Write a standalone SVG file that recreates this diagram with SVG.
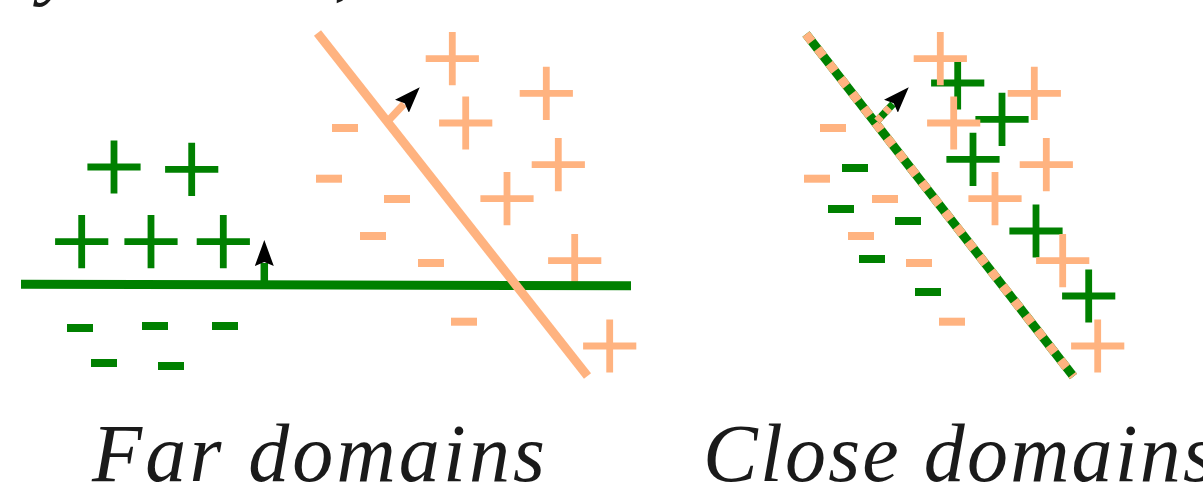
<svg xmlns="http://www.w3.org/2000/svg" xmlns:xlink="http://www.w3.org/1999/xlink" width="1203" height="485" viewBox="0 0 1203 485">
<style>
.gp{stroke:#008000;stroke-width:6.8;fill:none}
.op{stroke:#ffb380;stroke-width:6.8;fill:none}
.gm{fill:#008000}
.om{fill:#ffb380}
.gl{stroke:#008000;stroke-width:9;fill:none}
.ol{stroke:#ffb380;stroke-width:9;fill:none}
.od{stroke:#ffb380;stroke-width:9;fill:none;stroke-dasharray:9.4 9.4}
.stemg{stroke:#008000;stroke-width:7.5;fill:none}
.stemo{stroke:#ffb380;stroke-width:7.5;fill:none}
.stemd{stroke:#ffb380;stroke-width:7.5;fill:none;stroke-dasharray:6 6}
.lbl{font-family:"Liberation Serif","DejaVu Serif",serif;font-style:italic;font-size:82px;fill:#1a1a1a}
</style>
<defs>
<path id="plus" d="M-26.6,0H26.6M0,-26.6V26.6"/>
<rect id="minus" x="-13" y="-4" width="26" height="8"/>
<marker id="ah" markerUnits="userSpaceOnUse" viewBox="0 0 26 19" markerWidth="26" markerHeight="19" refX="3" refY="9.5" orient="auto">
<path d="M0,0 L26,9.5 L0,19 L4,9.5 Z" fill="#000"/>
</marker>
</defs>

<text class="lbl" x="40" y="-11">y</text>
<text class="lbl" x="334" y="-9">,</text>

<g id="far-panel">
<g id="far-orange-plus">
<use id="fop1" href="#plus" class="op" x="452.3" y="58.7"/>
<use id="fop2" href="#plus" class="op" x="546.3" y="93.3"/>
<use id="fop3" href="#plus" class="op" x="465.7" y="123"/>
<use id="fop4" href="#plus" class="op" x="558.3" y="164.7"/>
<use id="fop5" href="#plus" class="op" x="507" y="198.7"/>
<use id="fop6" href="#plus" class="op" x="574.7" y="260.7"/>
<use id="fop7" href="#plus" class="op" x="609.7" y="346"/>
</g>
<g id="far-orange-minus">
<use id="fom1" href="#minus" class="om" x="345" y="128"/>
<use id="fom2" href="#minus" class="om" x="329" y="178.7"/>
<use id="fom3" href="#minus" class="om" x="397" y="199"/>
<use id="fom4" href="#minus" class="om" x="373" y="236"/>
<use id="fom5" href="#minus" class="om" x="431" y="263"/>
<use id="fom6" href="#minus" class="om" x="464" y="321.7"/>
</g>
<g id="far-green-plus">
<use id="fgp1" href="#plus" class="gp" x="114" y="167"/>
<use id="fgp2" href="#plus" class="gp" x="191.7" y="169.3"/>
<use id="fgp3" href="#plus" class="gp" x="81.7" y="241.7"/>
<use id="fgp4" href="#plus" class="gp" x="151" y="241.7"/>
<use id="fgp5" href="#plus" class="gp" x="223.3" y="241.7"/>
</g>
<g id="far-green-minus">
<use id="fgm1" href="#minus" class="gm" x="80" y="328"/>
<use id="fgm2" href="#minus" class="gm" x="155" y="326"/>
<use id="fgm3" href="#minus" class="gm" x="225" y="326"/>
<use id="fgm4" href="#minus" class="gm" x="104" y="363"/>
<use id="fgm5" href="#minus" class="gm" x="171" y="366"/>
</g>
</g>

<g id="close-panel">
<g id="close-green-plus">
<use id="cgp1" href="#plus" class="gp" x="957.7" y="83"/>
<use id="cgp2" href="#plus" class="gp" x="1002" y="119.3"/>
<use id="cgp3" href="#plus" class="gp" x="973" y="159.3"/>
<use id="cgp4" href="#plus" class="gp" x="1036" y="231"/>
<use id="cgp5" href="#plus" class="gp" x="1088.7" y="296"/>
</g>
<g id="close-orange-plus">
<use id="cop1" href="#plus" class="op" x="940.3" y="58.7"/>
<use id="cop2" href="#plus" class="op" x="1034.3" y="93.3"/>
<use id="cop3" href="#plus" class="op" x="953.7" y="123"/>
<use id="cop4" href="#plus" class="op" x="1046.3" y="164.7"/>
<use id="cop5" href="#plus" class="op" x="995" y="198.7"/>
<use id="cop6" href="#plus" class="op" x="1062.7" y="260.7"/>
<use id="cop7" href="#plus" class="op" x="1097.7" y="346"/>
</g>
<g id="close-orange-minus">
<use id="com1" href="#minus" class="om" x="833" y="128"/>
<use id="com2" href="#minus" class="om" x="817" y="178.7"/>
<use id="com3" href="#minus" class="om" x="885" y="199"/>
<use id="com4" href="#minus" class="om" x="861" y="236"/>
<use id="com5" href="#minus" class="om" x="919" y="263"/>
<use id="com6" href="#minus" class="om" x="952" y="321.7"/>
</g>
<g id="close-green-minus">
<use id="cgm1" href="#minus" class="gm" x="855" y="168"/>
<use id="cgm2" href="#minus" class="gm" x="841" y="209"/>
<use id="cgm3" href="#minus" class="gm" x="908" y="221"/>
<use id="cgm4" href="#minus" class="gm" x="872" y="259"/>
<use id="cgm5" href="#minus" class="gm" x="928" y="292"/>
</g>
</g>

<g id="connectors">
<g id="far-green-boundary">
<path class="gl" d="M21,284.3 L631,285.7"/>
<path class="stemg" d="M264.3,284 L264.3,263" marker-end="url(#ah)"/>
</g>
<g id="far-orange-boundary">
<path class="ol" d="M317.5,33 L587.5,376"/>
<path class="stemo" d="M388,121 L404,104" marker-end="url(#ah)"/>
</g>
<g id="close-boundary">
<path class="gl" d="M806,34 L1073.5,376.5"/>
<path class="od" d="M806,34 L1073.5,376.5"/>
<path class="stemg" d="M877,121 L893,104" marker-end="url(#ah)"/>
<path class="stemd" d="M877,121 L893,104"/>
</g>
</g>

<g id="labels">
<text id="label-far" class="lbl" x="92" y="481" textLength="453">Far domains</text>
<text id="label-close" class="lbl" x="703" y="481" textLength="512">Close domains</text>
</g>
</svg>
